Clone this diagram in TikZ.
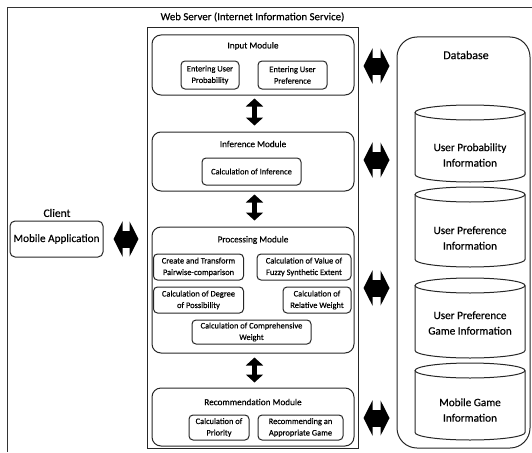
\documentclass[tikz,border=0pt]{standalone}
\usepackage{fontspec}
\setmainfont{Carlito}[FakeBold=0.4]
\usetikzlibrary{arrows.meta}
\begin{document}
\begin{tikzpicture}[x=1pt,y=-1pt,
  every node/.style={font=\fontsize{8.5}{9.5}\selectfont, align=center, inner sep=0pt},
  modbox/.style={draw=black!85, line width=1pt, rounded corners=9pt},
  inbox/.style={draw=black!85, line width=1pt, rounded corners=4pt, font=\fontsize{8.4}{11.5}\selectfont},
  modlabel/.style={font=\fontsize{9.2}{10}\selectfont},
  biglabel/.style={font=\fontsize{10.8}{12}\selectfont},
  fatarrow/.style={line width=17pt, {Triangle[length=9pt,width=35pt]}-{Triangle[length=9pt,width=35pt]}},
  varrow/.style={line width=5pt, {Triangle[length=8pt,width=17pt]}-{Triangle[length=8pt,width=17pt]}},
  dbtext/.style={font=\fontsize{11.2}{15.5}\selectfont},
  cyl/.style={draw=black!85, line width=1pt}
]
\useasboundingbox (0,0) rectangle (532,452);
% outer frame (partial)
\draw[black!80, line width=0.8pt] (532,7) -- (7,7) -- (7,452);

% Web server
\node[draw=black!85, line width=1pt, minimum width=211pt, minimum height=420pt] (ws) at (252.5,238) {};
\node[biglabel] (wslabel) at (252.5,17) {Web Server (Internet Information Service)};

% Input module
\node[modbox, minimum width=202pt, minimum height=60pt] (input) at (253,65) {};
\node[modlabel] (inputl) at (253,46) {Input Module};
\node[inbox, minimum width=58pt, minimum height=28pt] (eup) at (210,75) {Entering User\\Probability};
\node[inbox, minimum width=69pt, minimum height=28pt] (eupr) at (292.5,75) {Entering User\\Preference};

% Inference module
\node[modbox, minimum width=202pt, minimum height=59pt] (infer) at (253,161.5) {};
\node[modlabel] (inferl) at (253,144) {Inference Module};
\node[inbox, minimum width=99pt, minimum height=27pt] (cinf) at (251.5,171.5) {Calculation of Inference};

% Processing module
\node[modbox, minimum width=202pt, minimum height=126pt] (proc) at (253,290) {};
\node[modlabel] (procl) at (253,240) {Processing Module};
\node[inbox, minimum width=90pt, minimum height=26pt] (create) at (198.5,267) {Create and Transform\\Pairwise-comparison};
\node[inbox, minimum width=94pt, minimum height=26pt] (fuzzy) at (304,267) {Calculation of Value of\\Fuzzy Synthetic Extent};
\node[inbox, minimum width=90pt, minimum height=26pt] (degree) at (198.5,300) {Calculation of Degree\\of Possibility};
\node[inbox, minimum width=68pt, minimum height=26pt] (relw) at (317,300) {Calculation of\\Relative Weight};
\node[inbox, minimum width=119pt, minimum height=24pt] (compw) at (251.5,332) {Calculation of Comprehensive\\Weight};

% Recommendation module
\node[modbox, minimum width=202pt, minimum height=58pt] (rec) at (253,417) {};
\node[modlabel] (recl) at (253,402) {Recommendation Module};
\node[inbox, minimum width=60pt, minimum height=25pt] (prio) at (219,427.5) {Calculation of\\Priority};
\node[inbox, minimum width=85pt, minimum height=25pt] (recg) at (300.5,427.5) {Recommending an\\Appropriate Game};

% vertical arrows
\draw[varrow, shorten <=3pt, shorten >=6pt] (input.south -| 254.5,0) -- (infer.north -| 254.5,0);
\draw[varrow, shorten <=3pt, shorten >=6pt] (infer.south -| 254.5,0) -- (proc.north -| 254.5,0);
\draw[varrow, shorten <=4pt, shorten >=5pt] (proc.south -| 254.5,0) -- (rec.north -| 254.5,0);

% Database
\node[draw=black!85, line width=1pt, rounded corners=20pt, minimum width=133pt, minimum height=411pt] (db) at (463.5,242.5) {};
\node[font=\fontsize{12}{13}\selectfont] (dbl) at (466,55) {Database};

% cylinders
\foreach \t/\b in {105/182, 187/267, 278/358, 363/440}{
  \draw[cyl] (470,\t+7.5) ellipse [x radius=55pt, y radius=7.5pt];
  \draw[cyl] (415,\t+7.5) -- (415,\b-7.5) arc[start angle=180, end angle=360, x radius=55pt, y radius=7.5pt] -- (525,\t+7.5);
}
\node[dbtext] (c1) at (470,155) {User Probability\\Information};
\node[dbtext] (c2) at (470,238) {User Preference\\Information};
\node[dbtext] (c3) at (470,323) {User Preference\\Game Information};
\node[dbtext] (c4) at (470,410) {Mobile Game\\Information};

% horizontal fat arrows
\foreach \yy in {66,160,288,418}{
  \draw[fatarrow, shorten <=5pt, shorten >=7pt] (ws.east |- 0,\yy) -- (db.west |- 0,\yy);
}

% Client
\node[font=\fontsize{11.5}{12}\selectfont] (clientl) at (57,213) {Client};
\node[draw=black!85, line width=1pt, rounded corners=5pt, minimum width=93pt, minimum height=36pt, font=\fontsize{11.2}{12}\selectfont] (mob) at (56.5,239) {Mobile Application};
\draw[fatarrow, shorten <=10pt, shorten >=8pt] (mob.east) -- (ws.west |- mob.east);
\end{tikzpicture}
\end{document}
